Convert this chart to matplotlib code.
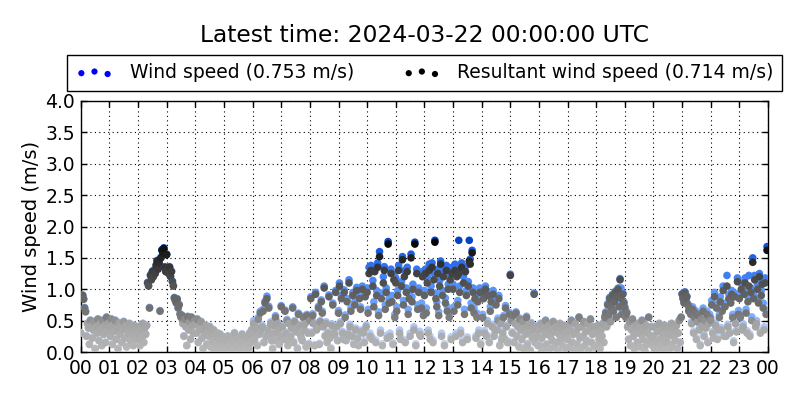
import numpy as np
import matplotlib
matplotlib.use("Agg")
import matplotlib.pyplot as plt
from matplotlib.colors import LinearSegmentedColormap, Normalize

# ---- data: 2-minute samples, 30 per hour, hours 00..23 ----
resultant_by_hour = [
    [0.30,0.88,0.90,0.84,0.70,0.64,0.25,0.45,0.38,0.12,0.50,0.42,0.22,0.35,0.48,0.05,0.40,0.30,0.52,0.18,0.45,0.36,0.10,0.50,0.28,0.42,0.15,0.55,0.32,0.46],
    [0.40,0.25,0.52,0.12,0.44,0.33,0.50,0.20,0.38,0.05,0.46,0.28,0.40,0.15,0.35,0.48,0.22,0.42,0.08,0.36,0.30,0.45,0.18,0.38,0.28,0.10,0.42,0.25,0.35,0.20],
    [0.30,0.40,0.10,0.35,0.22,0.45,0.15,0.38,0.28,0.42,1.10,1.05,0.70,1.22,1.15,1.28,1.20,1.30,1.25,1.38,1.45,1.32,1.42,0.65,1.50,1.62,1.58,1.65,1.35,1.28],
    [1.55,1.30,1.25,1.35,1.20,1.28,1.12,1.05,0.86,0.82,0.78,0.84,0.70,0.75,0.60,0.55,0.58,0.45,0.25,0.52,0.40,0.10,0.56,0.35,0.48,0.20,0.55,0.42,0.30,0.50],
    [0.45,0.30,0.52,0.15,0.40,0.35,0.48,0.22,0.05,0.38,0.28,0.42,0.12,0.32,0.25,0.40,0.08,0.30,0.18,0.35,0.02,0.25,0.12,0.30,0.05,0.20,0.28,0.10,0.22,0.15],
    [0.10,0.02,0.18,0.05,0.25,0.00,0.12,0.08,0.20,0.03,0.15,0.30,0.05,0.10,0.00,0.22,0.08,0.15,0.02,0.28,0.12,0.05,0.18,0.00,0.10,0.25,0.06,0.30,0.15,0.35],
    [0.30,0.45,0.20,0.40,0.38,0.10,0.52,0.28,0.62,0.35,0.40,0.65,0.15,0.78,0.25,0.85,0.35,0.70,0.25,0.45,0.18,0.05,0.42,0.30,0.55,0.18,0.45,0.35,0.12,0.25],
    [0.72,0.40,0.25,0.20,0.65,0.30,0.50,0.10,0.45,0.15,0.25,0.38,0.70,0.15,0.48,0.35,0.32,0.05,0.60,0.42,0.28,0.22,0.18,0.55,0.35,0.45,0.08,0.58,0.30,0.12],
    [0.50,0.85,0.30,0.58,0.45,0.10,0.92,0.35,0.38,0.70,0.12,0.48,0.80,0.62,0.40,1.02,0.25,0.45,0.15,0.30,0.88,0.22,0.05,0.42,0.75,0.30,0.28,0.95,0.40,0.18],
    [0.62,1.05,0.45,0.85,0.30,0.20,0.95,0.55,0.18,0.80,0.28,1.10,0.40,0.65,0.25,0.90,0.12,0.75,0.35,0.98,0.22,0.10,0.85,0.68,0.32,1.00,0.30,0.15,0.88,0.40],
    [0.95,0.62,1.25,0.25,1.30,0.20,1.05,0.72,1.28,0.15,0.90,1.35,0.58,1.52,0.30,0.85,0.10,1.10,1.30,0.68,0.95,0.22,1.72,0.78,0.25,1.25,0.80,0.12,1.15,0.55],
    [1.10,0.65,0.90,1.30,0.30,0.20,1.05,1.47,0.75,1.20,0.15,0.95,1.28,0.60,0.85,0.25,1.50,0.80,1.00,0.35,1.72,0.10,1.25,0.68,0.95,0.28,0.25,0.70,1.20,0.58],
    [0.90,1.25,0.62,1.10,0.30,1.30,0.20,0.95,1.35,0.15,1.15,1.75,0.85,0.72,1.25,0.58,1.05,1.40,0.25,0.90,1.20,0.10,0.78,1.30,0.65,1.00,0.55,1.15,0.20,1.25],
    [1.00,0.65,1.30,0.25,1.20,0.75,1.25,0.95,0.30,1.35,0.15,1.10,0.60,1.28,0.90,0.20,1.05,1.45,1.40,0.70,1.58,0.95,0.62,0.85,0.22,0.55,0.80,0.30,0.95,0.12],
    [0.95,0.55,0.85,0.30,1.00,0.25,0.45,0.90,0.15,0.65,0.80,0.40,0.92,0.25,0.35,0.75,0.35,0.50,0.85,0.10,0.45,0.20,0.30,0.55,0.20,0.70,0.40,0.15,0.15,0.60],
    [1.22,0.50,0.30,0.58,0.15,0.45,0.62,0.25,0.40,0.08,0.52,0.35,0.20,0.48,0.05,0.38,0.28,0.55,0.12,0.42,0.30,0.02,0.45,0.22,0.35,0.92,0.15,0.40,0.25,0.10],
    [0.35,0.10,0.45,0.22,0.02,0.38,0.28,0.50,0.12,0.30,0.42,0.05,0.25,0.35,0.18,0.48,0.08,0.32,0.40,0.15,0.02,0.28,0.45,0.20,0.35,0.10,0.42,0.25,0.05,0.30],
    [0.20,0.42,0.08,0.35,0.50,0.15,0.28,0.02,0.45,0.30,0.12,0.38,0.55,0.22,0.05,0.40,0.25,0.48,0.10,0.32,0.18,0.45,0.02,0.35,0.52,0.15,0.28,0.40,0.08,0.30],
    [0.30,0.10,0.42,0.20,0.05,0.35,0.25,0.45,0.15,0.55,0.62,0.40,0.75,0.58,0.85,0.48,0.70,0.90,0.65,0.80,0.95,0.55,0.88,1.00,0.72,1.15,0.85,0.60,0.92,0.78],
    [0.70,0.55,0.62,0.40,0.20,0.48,0.10,0.35,0.52,0.25,0.05,0.42,0.30,0.15,0.45,0.38,0.08,0.28,0.50,0.20,0.35,0.02,0.42,0.12,0.30,0.55,0.18,0.25,0.40,0.10],
    [0.25,0.05,0.40,0.15,0.32,0.02,0.45,0.20,0.10,0.35,0.28,0.05,0.42,0.15,0.22,0.38,0.02,0.30,0.12,0.45,0.08,0.25,0.35,0.18,0.42,0.05,0.30,0.50,0.15,0.55],
    [0.92,0.85,0.78,0.95,0.82,0.88,0.75,0.65,0.70,0.60,0.45,0.68,0.30,0.55,0.62,0.20,0.48,0.58,0.35,0.10,0.52,0.42,0.65,0.25,0.50,0.38,0.60,0.15,0.45,0.55],
    [0.50,0.75,0.30,0.22,0.88,0.42,0.70,0.20,0.35,0.55,0.80,0.35,0.65,0.98,0.25,0.72,0.25,1.05,0.40,0.85,0.30,0.78,0.92,0.55,0.15,0.88,0.45,0.32,1.12,0.60],
    [0.85,0.55,1.00,0.35,0.40,0.92,1.10,0.62,0.30,0.80,1.05,0.25,0.95,0.50,1.43,0.85,1.15,0.40,0.45,1.00,0.78,1.20,0.30,0.90,1.08,0.70,0.35,1.10,0.60,1.62],
]

wind_speed_by_hour = [
    [0.31,0.89,0.91,0.85,0.71,0.65,0.26,0.46,0.39,0.13,0.51,0.43,0.23,0.36,0.49,0.06,0.41,0.31,0.53,0.19,0.46,0.37,0.11,0.51,0.29,0.43,0.16,0.56,0.33,0.47],
    [0.41,0.26,0.53,0.13,0.45,0.34,0.51,0.21,0.39,0.06,0.47,0.29,0.41,0.16,0.36,0.49,0.23,0.43,0.09,0.37,0.31,0.46,0.19,0.39,0.29,0.11,0.43,0.26,0.36,0.21],
    [0.31,0.41,0.11,0.36,0.23,0.46,0.16,0.39,0.29,0.43,1.11,1.06,0.71,1.23,1.16,1.29,1.21,1.31,1.26,1.39,1.46,1.33,1.43,0.66,1.51,1.63,1.59,1.66,1.36,1.29],
    [1.56,1.31,1.26,1.36,1.21,1.29,1.13,1.06,0.87,0.83,0.79,0.85,0.71,0.76,0.61,0.56,0.59,0.46,0.26,0.53,0.41,0.11,0.57,0.36,0.49,0.21,0.56,0.43,0.31,0.51],
    [0.46,0.31,0.53,0.16,0.41,0.36,0.49,0.23,0.06,0.39,0.29,0.43,0.13,0.33,0.26,0.41,0.09,0.31,0.19,0.36,0.03,0.26,0.13,0.31,0.06,0.21,0.29,0.11,0.23,0.16],
    [0.11,0.03,0.19,0.06,0.26,0.01,0.13,0.09,0.21,0.04,0.16,0.31,0.06,0.11,0.01,0.23,0.09,0.16,0.03,0.29,0.13,0.06,0.19,0.01,0.11,0.26,0.07,0.31,0.16,0.36],
    [0.32,0.50,0.22,0.43,0.41,0.12,0.55,0.30,0.65,0.38,0.43,0.68,0.17,0.81,0.27,0.89,0.38,0.73,0.27,0.48,0.20,0.07,0.45,0.32,0.58,0.20,0.48,0.37,0.14,0.27],
    [0.74,0.42,0.27,0.22,0.67,0.32,0.52,0.12,0.47,0.17,0.27,0.40,0.72,0.17,0.50,0.37,0.34,0.07,0.62,0.44,0.30,0.24,0.20,0.57,0.37,0.47,0.10,0.60,0.32,0.14],
    [0.52,0.88,0.32,0.61,0.48,0.12,0.95,0.38,0.40,0.73,0.14,0.50,0.83,0.65,0.43,1.05,0.27,0.48,0.17,0.32,0.91,0.24,0.07,0.45,0.78,0.33,0.30,0.98,0.43,0.20],
    [0.66,1.10,0.48,0.90,0.33,0.23,0.99,0.59,0.21,0.85,0.31,1.15,0.44,0.70,0.28,0.95,0.15,0.80,0.38,1.03,0.25,0.13,0.90,0.72,0.35,1.05,0.33,0.18,0.93,0.43],
    [1.02,0.68,1.35,0.30,1.38,0.24,1.14,0.80,1.34,0.19,0.98,1.42,0.64,1.60,0.35,0.94,0.13,1.20,1.36,0.75,1.02,0.27,1.76,0.85,0.30,1.32,0.90,0.15,1.24,0.60],
    [1.18,0.72,0.98,1.38,0.35,0.24,1.12,1.52,0.82,1.30,0.19,1.02,1.35,0.68,0.95,0.30,1.56,0.88,1.08,0.40,1.75,0.13,1.32,0.75,1.02,0.33,0.30,0.78,1.28,0.64],
    [0.98,1.32,0.70,1.20,0.35,1.40,0.25,1.05,1.42,0.19,1.25,1.78,0.94,0.80,1.32,0.64,1.14,1.45,0.30,0.98,1.30,0.13,0.86,1.38,0.72,1.08,0.62,1.24,0.24,1.35],
    [1.08,0.72,1.40,0.30,1.30,0.82,1.78,1.05,0.35,1.42,0.19,1.20,0.68,1.36,0.98,0.24,1.12,1.78,1.48,0.78,1.62,1.02,0.70,0.92,0.26,0.62,0.88,0.35,1.02,0.15],
    [1.00,0.60,0.92,0.34,1.05,0.28,0.50,0.96,0.18,0.72,0.86,0.44,0.98,0.28,0.39,0.80,0.38,0.54,0.90,0.12,0.48,0.23,0.33,0.58,0.23,0.74,0.43,0.18,0.17,0.63],
    [1.24,0.52,0.32,0.60,0.17,0.47,0.64,0.27,0.42,0.10,0.54,0.37,0.22,0.50,0.07,0.40,0.30,0.57,0.14,0.44,0.32,0.04,0.47,0.24,0.37,0.94,0.17,0.42,0.27,0.12],
    [0.36,0.11,0.46,0.23,0.03,0.39,0.29,0.51,0.13,0.31,0.43,0.06,0.26,0.36,0.19,0.49,0.09,0.33,0.41,0.16,0.03,0.29,0.46,0.21,0.36,0.11,0.43,0.26,0.06,0.31],
    [0.21,0.43,0.09,0.36,0.51,0.16,0.29,0.03,0.46,0.31,0.13,0.39,0.56,0.23,0.06,0.41,0.26,0.49,0.11,0.33,0.19,0.46,0.03,0.36,0.53,0.16,0.29,0.41,0.09,0.31],
    [0.31,0.11,0.43,0.21,0.06,0.36,0.26,0.46,0.16,0.57,0.64,0.42,0.77,0.60,0.87,0.50,0.72,0.92,0.67,0.82,0.97,0.57,0.90,1.02,0.74,1.17,1.02,0.62,0.94,0.80],
    [0.72,0.57,0.64,0.41,0.21,0.49,0.11,0.36,0.53,0.26,0.06,0.43,0.31,0.16,0.46,0.39,0.09,0.29,0.51,0.21,0.36,0.03,0.43,0.13,0.31,0.56,0.19,0.26,0.41,0.11],
    [0.26,0.06,0.41,0.16,0.33,0.03,0.46,0.21,0.11,0.36,0.29,0.06,0.43,0.16,0.23,0.39,0.03,0.31,0.13,0.46,0.09,0.26,0.36,0.19,0.43,0.06,0.31,0.51,0.16,0.56],
    [0.93,0.86,0.80,0.96,0.84,0.89,0.77,0.68,0.73,0.63,0.48,0.72,0.33,0.59,0.66,0.23,0.52,0.62,0.38,0.13,0.56,0.46,0.70,0.28,0.55,0.42,0.65,0.18,0.50,0.60],
    [0.55,0.82,0.33,0.26,0.95,0.46,0.76,0.23,0.39,0.60,0.88,0.39,0.70,1.05,0.28,0.78,0.28,1.22,0.44,0.92,0.33,0.85,0.98,0.60,0.18,0.94,0.50,0.35,1.18,0.66],
    [0.92,0.60,1.10,0.39,0.45,1.00,1.18,0.68,0.34,0.88,1.22,0.29,1.02,0.56,1.50,0.92,1.22,0.45,0.50,1.08,0.85,1.25,0.34,0.98,1.15,0.78,0.40,1.18,0.66,1.68],
]

hour_labels = ["00","01","02","03","04","05","06","07","08","09","10","11",
               "12","13","14","15","16","17","18","19","20","21","22","23","00"]
title_text = "Latest time: 2024-03-22 00:00:00 UTC"
wind_label = "Wind speed (0.753 m/s)"
res_label = "Resultant wind speed (0.714 m/s)"

# ---- assemble ----
samples_per_hour = len(resultant_by_hour[0])
resultant = np.concatenate([np.array(h) for h in resultant_by_hour])
wind_speed = np.concatenate([np.array(h) for h in wind_speed_by_hour])
t = np.arange(len(resultant)) / samples_per_hour

grey_cmap = LinearSegmentedColormap.from_list(
    "greys_v", [(0.0, "#b8b8b8"), (0.25, "#a4a4a4"), (0.31, "#7a7a7a"),
                (0.55, "#5a5a5a"), (0.72, "#3c3c3c"), (0.95, "#0a0a0a"), (1.0, "#000000")])
blue_cmap = LinearSegmentedColormap.from_list(
    "blues_v", [(0.0, "#c8d8f4"), (0.25, "#a8c4f8"), (0.31, "#80b0ff"),
                (0.55, "#5592fa"), (0.72, "#3a78f0"), (0.95, "#0a50d8"), (1.0, "#0040c0")])
norm = Normalize(0.0, 1.8)

plt.rcParams['font.family'] = ['DejaVu Sans']
fig = plt.figure(figsize=(8, 4), dpi=100, facecolor="white")
ax = fig.add_axes([0.101, 0.12, 0.859, 0.6275])

ax.scatter(t, wind_speed, c=wind_speed, cmap=blue_cmap, norm=norm, s=30,
           linewidths=0, zorder=3)
ax.scatter(t, resultant, c=resultant, cmap=grey_cmap, norm=norm, s=30,
           linewidths=0, zorder=4)

ax.set_xlim(0, 24)
ax.set_ylim(0, 4)
ax.set_xticks(np.arange(25))
ax.set_xticklabels(hour_labels)
ax.set_yticks(np.arange(0, 4.01, 0.5))
ax.set_yticklabels([f"{v:.1f}" for v in np.arange(0, 4.01, 0.5)])
ax.tick_params(axis="both", direction="in", top=True, right=True, length=4,
               labelsize=13.5, width=1)
ax.tick_params(axis="x", pad=5)
ax.tick_params(axis="y", pad=4)
ax.grid(True, linestyle=(0, (1, 3)), color="black", linewidth=0.8, zorder=0)
ax.set_axisbelow(True)
for sp in ax.spines.values():
    sp.set_linewidth(1.0)
ax.set_ylabel("Wind speed (m/s)", fontsize=14, labelpad=3)

h1 = ax.scatter([], [], c="blue", s=20, linewidths=0)
h2 = ax.scatter([], [], c="black", s=20, linewidths=0)
leg = fig.legend([h1, h2], [wind_label, res_label], loc="center",
                 bbox_to_anchor=(0.531, 0.8185), ncol=2, fontsize=13.5,
                 scatterpoints=3, scatteryoffsets=[0.375, 0.5, 0.3125],
                 fancybox=False, framealpha=1, edgecolor="black",
                 borderpad=0.45, handletextpad=0.9, columnspacing=2.6,
                 handlelength=2.0)
leg.get_frame().set_linewidth(1.0)

fig.text(0.531, 0.912, title_text, ha="center", va="center", fontsize=16.8)

fig.savefig("out.png", dpi=100, facecolor="white")
